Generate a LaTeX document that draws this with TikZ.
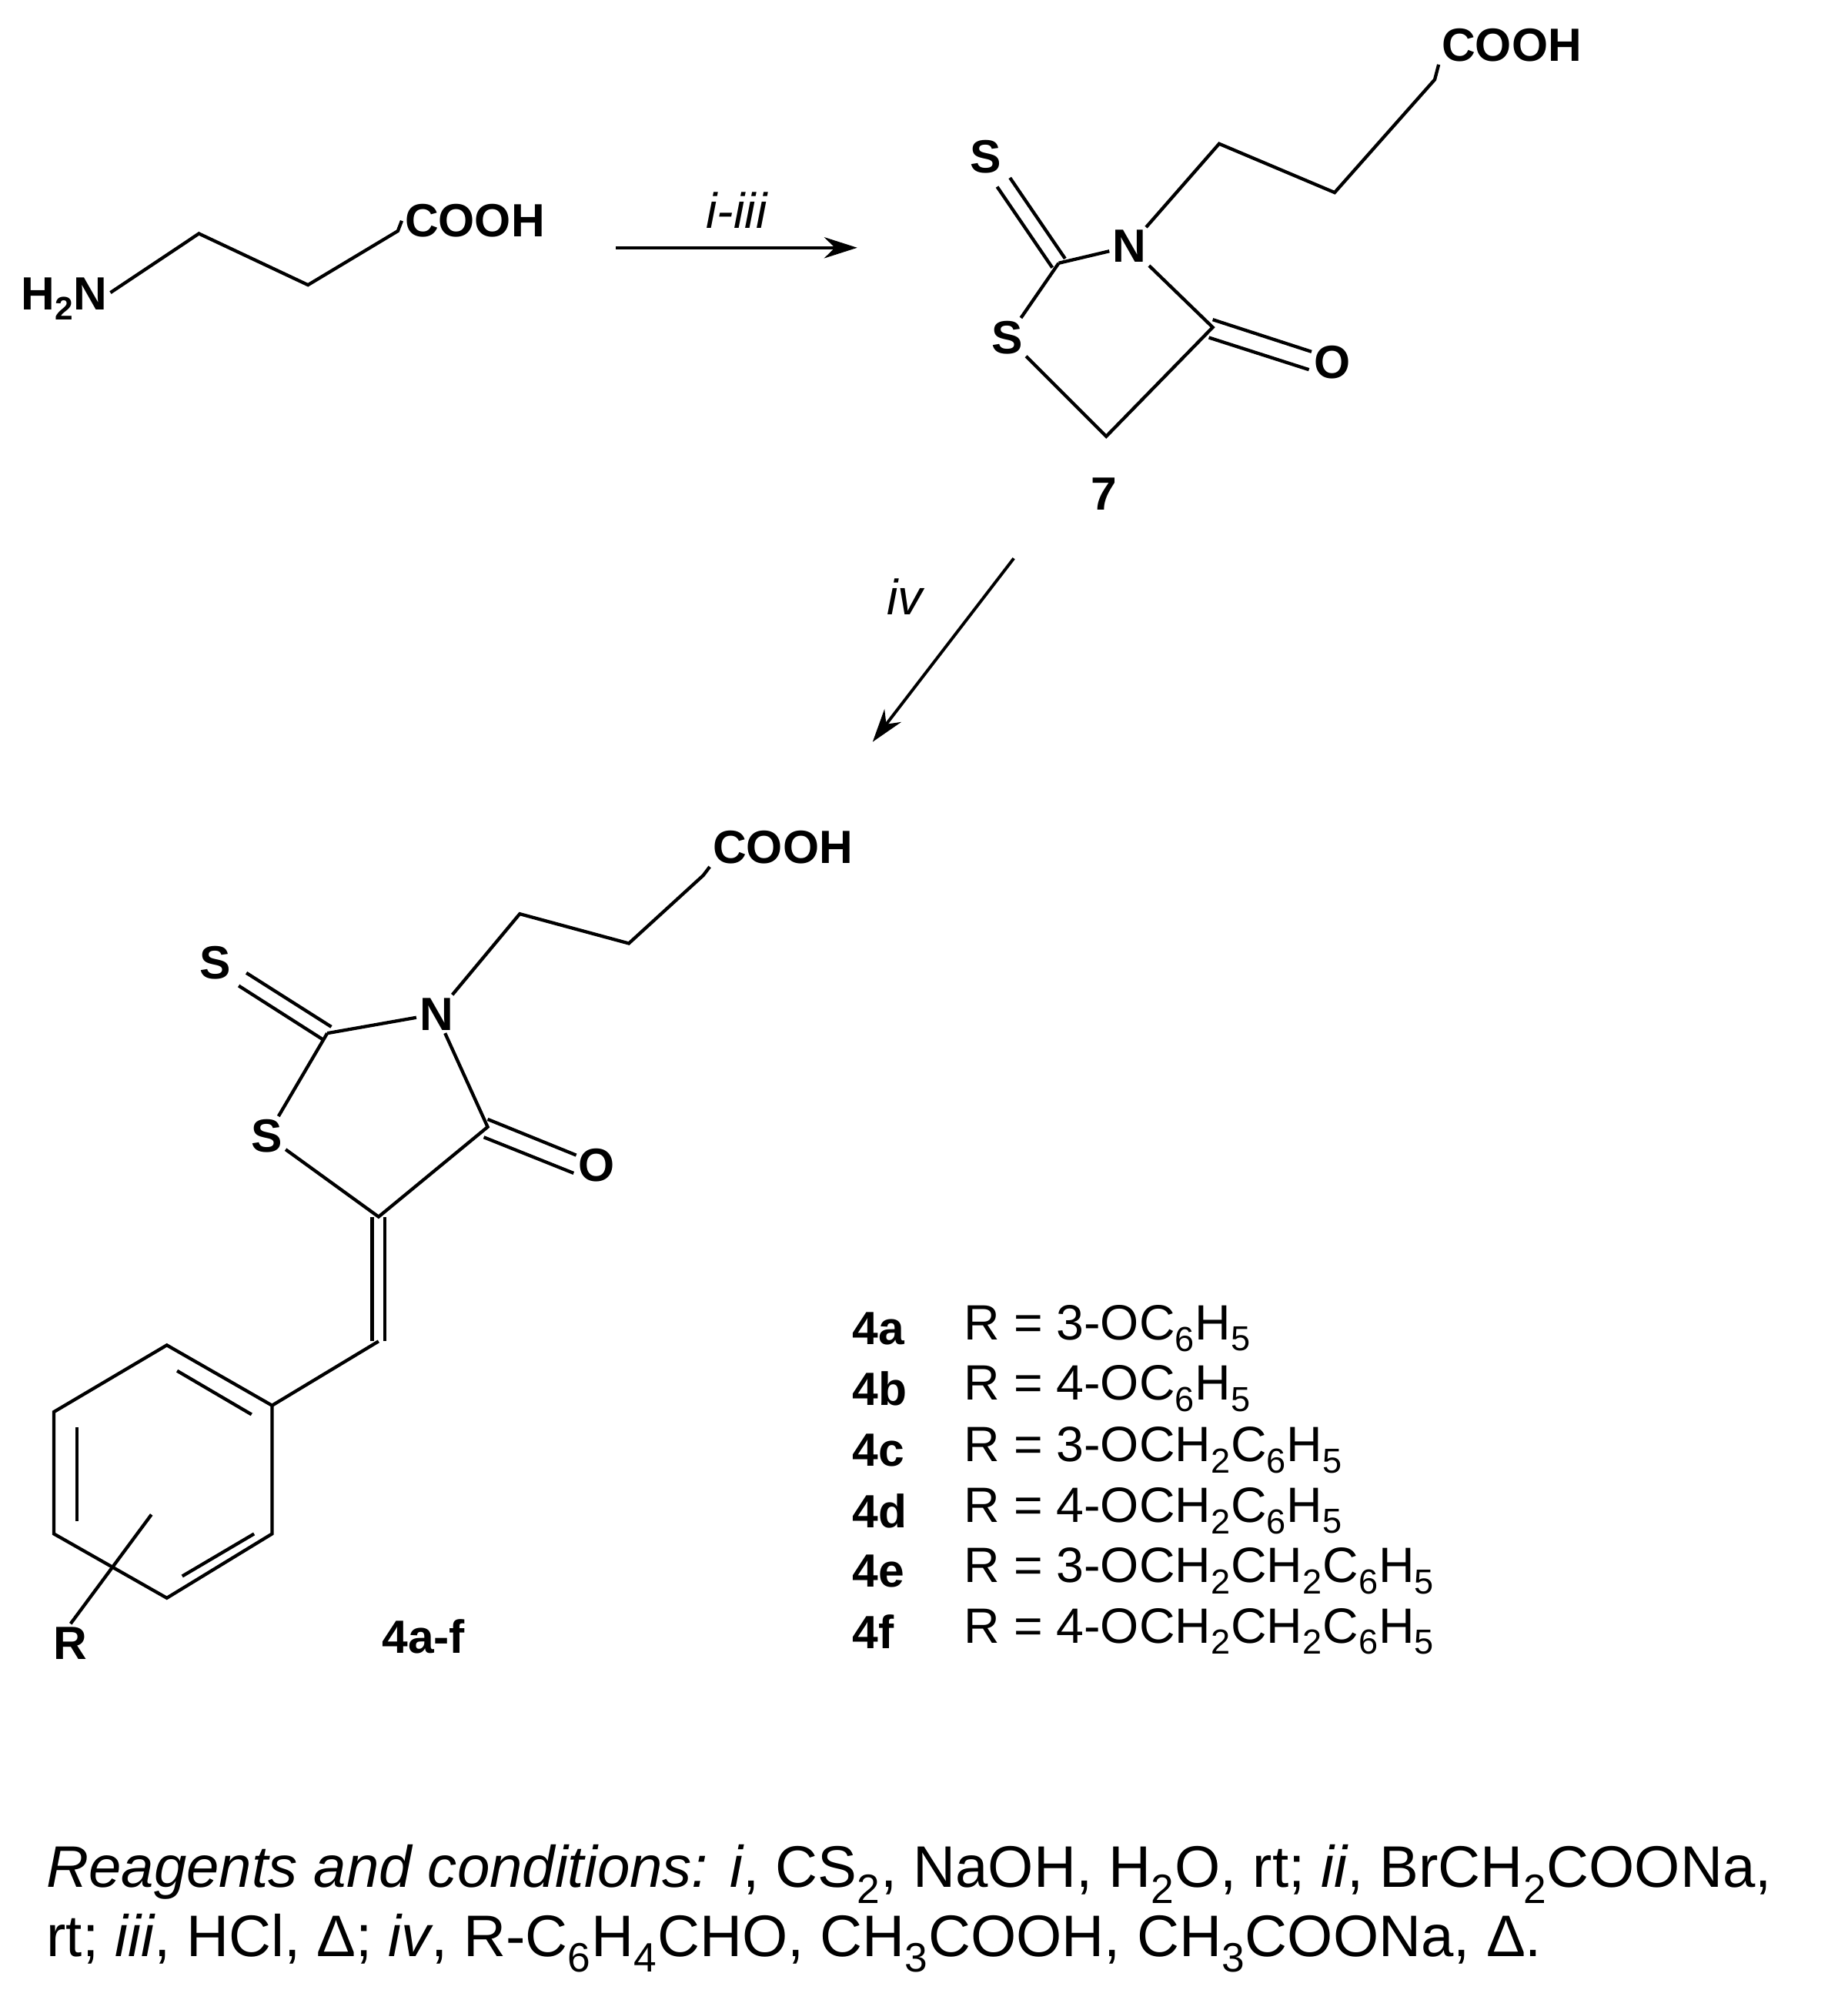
\documentclass[tikz,border=0pt]{standalone}
\usepackage{fontspec}
\setmainfont{Liberation Sans}
\usetikzlibrary{arrows.meta,calc}
\newcommand{\sub}[1]{\textsubscript{#1}}
\begin{document}
\begin{tikzpicture}[x=0.03cm,y=-0.03cm,line width=2.2pt,
 atom/.style={font=\fontsize{31}{36}\selectfont\bfseries,inner sep=1pt},
 txt/.style={font=\fontsize{33}{40}\selectfont,inner sep=0pt},
 rtxt/.style={font=\fontsize{39}{48}\selectfont,inner sep=0pt},
 arr/.style={-{Stealth[length=22pt,width=14pt]},line width=2pt}]
\useasboundingbox (0,0) rectangle (1440,1566);
% beta-alanine
\node[atom] (h2n) at (50,233) {H\sub{2}N};
\coordinate (a1) at (155,182); \coordinate (a2) at (240,222); \coordinate (a3) at (310,180);
\node[atom] (c1) at (370,172) {COOH};
\draw (h2n.east) ++(0,-5) -- (a1) -- (a2) -- (a3) -- (c1.west);
% arrow 1
\coordinate (r1) at (480,193); \coordinate (r2) at (668,193);
\draw[arr] (r1) -- (r2) node[midway,above=12pt,txt]{\itshape i-iii};
% compound 7
\node[atom] (s7) at (768,122) {S};
\node[atom] (n7) at (880,192) {N};
\node[atom] (rs7) at (785,263) {S};
\node[atom] (o7) at (1038,282) {O};
\node[atom] (cooh7) at (1178,35) {COOH};
\coordinate (c27) at (825,205); \coordinate (ch27) at (862,340); \coordinate (c47) at (945,255);
\draw (c27) -- (n7); \draw (n7) -- (c47) -- (ch27) -- (rs7); \draw (rs7) -- (c27);
\draw ($(c27)+(5,-3.5)$) -- ($(s7)+(19,16.5)$); \draw ($(c27)+(-5,3.5)$) -- ($(s7)+(9,23.5)$);
\draw ($(c47)+(0,-6)$) -- ($(o7)+(-16,-8)$); \draw ($(c47)+(-3,8)$) -- ($(o7)+(-18,6)$);
\coordinate (k1) at (950,112); \coordinate (k2) at (1040,150); \coordinate (k3) at (1118,62);
\draw (n7) -- (k1) -- (k2) -- (k3) -- (cooh7.south west);
\node[atom] (l7) at (860,385) {7};
% arrow 2
\coordinate (r3) at (790,435); \coordinate (r4) at (680,578);
\draw[arr] (r3) -- (r4);
\node[txt] (liv) at (705,465) {\itshape iv};
% compound 4
\node[atom] (s4) at (168,750) {S};
\node[atom] (n4) at (340,790) {N};
\node[atom] (rs4) at (208,885) {S};
\node[atom] (o4) at (465,908) {O};
\node[atom] (cooh4) at (610,660) {COOH};
\coordinate (c24) at (255,805); \coordinate (c54) at (295,948); \coordinate (c44) at (380,878);
\draw (c24) -- (n4); \draw (n4) -- (c44) -- (c54) -- (rs4); \draw (rs4) -- (c24);
\draw ($(c24)+(3.2,-5)$) -- ($(s4)+(24,8)$); \draw ($(c24)+(-3.2,5)$) -- ($(s4)+(18,18)$);
\draw ($(c44)+(0,-6)$) -- ($(o4)+(-16,-8)$); \draw ($(c44)+(-3,8)$) -- ($(o4)+(-18,6)$);
\coordinate (m1) at (405,712); \coordinate (m2) at (490,735); \coordinate (m3) at (548,682);
\draw (n4) -- (m1) -- (m2) -- (m3) -- (cooh4.south west);
\coordinate (ch) at (295,1045);
\draw ($(c54)+(-5,0)$) -- ($(ch)+(-5,0)$); \draw ($(c54)+(5,0)$) -- ($(ch)+(5,0)$);
\coordinate (b1) at (130,1048); \coordinate (b2) at (212,1095); \coordinate (b3) at (212,1195);
\coordinate (b4) at (130,1245); \coordinate (b5) at (42,1195); \coordinate (b6) at (42,1100);
\draw (ch) -- (b2);
\draw (b1) -- (b2) -- (b3) -- (b4) -- (b5) -- (b6) -- cycle;
\draw (60,1112) -- (60,1185);
\draw (142,1228) -- (198,1195);
\draw (138,1068) -- (196,1102);
\node[atom] (r) at (55,1280) {R};
\coordinate (rb) at (118,1180);
\draw (rb) -- (r.north);
\node[atom] (l4) at (330,1275) {4a-f};
% list
\foreach \y/\l/\r [count=\i] in {1035/4a/R = 3-OC\sub{6}H\sub{5},1082/4b/R = 4-OC\sub{6}H\sub{5},1130/4c/R = 3-OCH\sub{2}C\sub{6}H\sub{5},1177/4d/R = 4-OCH\sub{2}C\sub{6}H\sub{5},1224/4e/R = 3-OCH\sub{2}CH\sub{2}C\sub{6}H\sub{5},1271/4f/R = 4-OCH\sub{2}CH\sub{2}C\sub{6}H\sub{5}}{
 \node[atom,anchor=west] (lb\i) at (662,\y) {\l};
 \node[txt,anchor=west] (rv\i) at (750,\y) {\r};
}
\node[rtxt,anchor=west] (rg1) at (35,1460) {\textit{Reagents and conditions: i}, CS\sub{2}, NaOH, H\sub{2}O, rt; \textit{ii}, BrCH\sub{2}COONa,};
\node[rtxt,anchor=west] (rg2) at (35,1514) {rt; \textit{iii}, HCl, Δ; \textit{iv}, R-C\sub{6}H\sub{4}CHO, CH\sub{3}COOH, CH\sub{3}COONa, Δ.};
\end{tikzpicture}
\end{document}
